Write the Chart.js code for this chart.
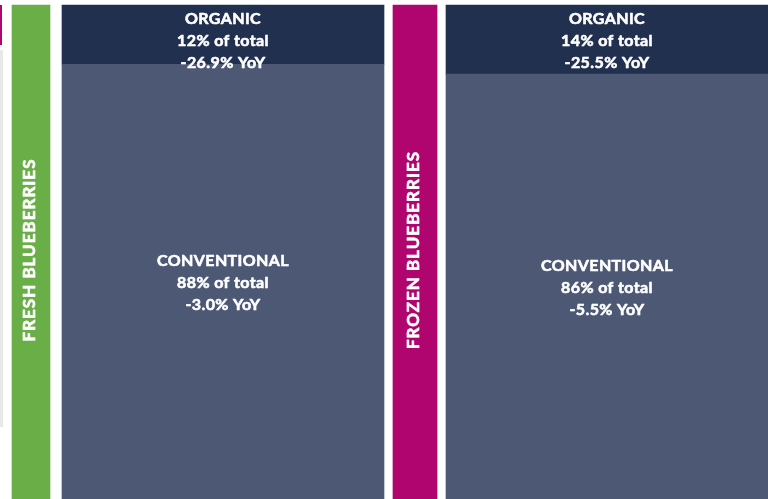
<!DOCTYPE html>
<html>
<head>
<meta charset="utf-8">
<script src="https://cdn.jsdelivr.net/npm/chart.js@4"></script>
<style>
  html, body { margin: 0; padding: 0; background: #fff; }
  #wrap { position: relative; width: 768px; height: 499px; overflow: hidden; }
  #chart { position: absolute; left: 0; top: 0; }
  .edge { position: absolute; left: 0; }
</style>
</head>
<body>
<div id="wrap">
  <div class="edge" style="top:5px;width:2px;height:40px;background:#b0056f"></div>
  <div class="edge" style="top:50px;width:3px;height:377px;background:#e8e8e8"></div>
  <canvas id="chart" width="768" height="499"></canvas>
</div>
<script>
// data
const groups = ["FRESH BLUEBERRIES", "FROZEN BLUEBERRIES"];
const groupColors = ["#6aae47", "#b0056f"];
const organicShare = [12, 14];
const organicYoY = [-26.9, -25.5];
const conventionalShare = [88, 86];
const conventionalYoY = [-3.0, -5.5];

const NAVY = "#22304f";
const SLATE = "#4c5874";
const FONT = "Lato, 'Open Sans', sans-serif";

// every group = a thin label bar + a wide mosaic column
const categories = [];
groups.forEach(g => { categories.push(g); categories.push(g + " split"); });

const labelBar = (i, thickness) => ({
  label: groups[i],
  data: categories.map((c, k) => (k === i * 2 ? 100 : null)),
  backgroundColor: groupColors[i],
  barThickness: thickness,
  clip: false
});

const spread = (vals) => {
  const out = [];
  vals.forEach(v => { out.push(null); out.push(v); });
  return out;
};

const fmtYoY = (v) => (v < 0 ? "-" : "+") + Math.abs(v).toFixed(1) + "% YoY";

const datasets = [
  labelBar(0, 38),
  labelBar(1, 44),
  {
    label: "CONVENTIONAL",
    data: spread(conventionalShare),
    yoy: spread(conventionalYoY),
    backgroundColor: SLATE,
    barThickness: 322,
    clip: false
  },
  {
    label: "ORGANIC",
    data: spread(organicShare),
    yoy: spread(organicYoY),
    backgroundColor: NAVY,
    barThickness: 322,
    clip: false
  }
];

// bold white text, a thin stroke makes it a bit heavier
function heavyText(ctx, t, x, y) {
  ctx.strokeText(t, x, y);
  ctx.fillText(t, x, y);
}

const textPlugin = {
  id: "texts",
  afterDatasetsDraw(chart) {
    const ctx = chart.ctx;
    const area = chart.chartArea;
    ctx.save();
    ctx.fillStyle = "#ffffff";
    ctx.strokeStyle = "#ffffff";
    ctx.lineWidth = 0.6;
    ctx.lineJoin = "round";
    ctx.textAlign = "center";
    ctx.textBaseline = "middle";

    // vertical group titles
    [0, 1].forEach(i => {
      const bar = chart.getDatasetMeta(i).data[i * 2];
      ctx.save();
      ctx.translate(bar.x, (area.top + area.bottom) / 2);
      ctx.rotate(-Math.PI / 2);
      ctx.font = "bold 17px " + FONT;
      ctx.letterSpacing = "1px";
      heavyText(ctx, groups[i], 2, -1);
      ctx.restore();
    });

    ctx.font = "bold 16px " + FONT;
    ctx.letterSpacing = "0.4px";
    const lineH = 22;
    [2, 3].forEach(d => {
      const ds = chart.data.datasets[d];
      chart.getDatasetMeta(d).data.forEach((bar, k) => {
        const v = ds.data[k];
        if (v == null) return;
        const lines = [ds.label, v + "% of total", fmtYoY(ds.yoy[k])];
        let cy;
        if (ds.label === "ORGANIC") {
          cy = bar.y + 14 + lineH;
        } else {
          cy = (bar.y + bar.base) / 2 + 1;
        }
        lines.forEach((t, j) => heavyText(ctx, t, bar.x, cy + (j - 1) * lineH));
      });
    });
    ctx.restore();
  }
};

new Chart(document.getElementById("chart"), {
  type: "bar",
  data: { labels: categories, datasets: datasets },
  options: {
    responsive: false,
    animation: false,
    devicePixelRatio: 1,
    layout: { padding: { left: 31, right: 161, top: 5, bottom: 0 } },
    scales: {
      x: { stacked: true, offset: false, display: false },
      y: { stacked: true, min: 0, max: 100, display: false }
    },
    plugins: {
      legend: { display: false },
      tooltip: { enabled: false }
    }
  },
  plugins: [textPlugin]
});
</script>
</body>
</html>
